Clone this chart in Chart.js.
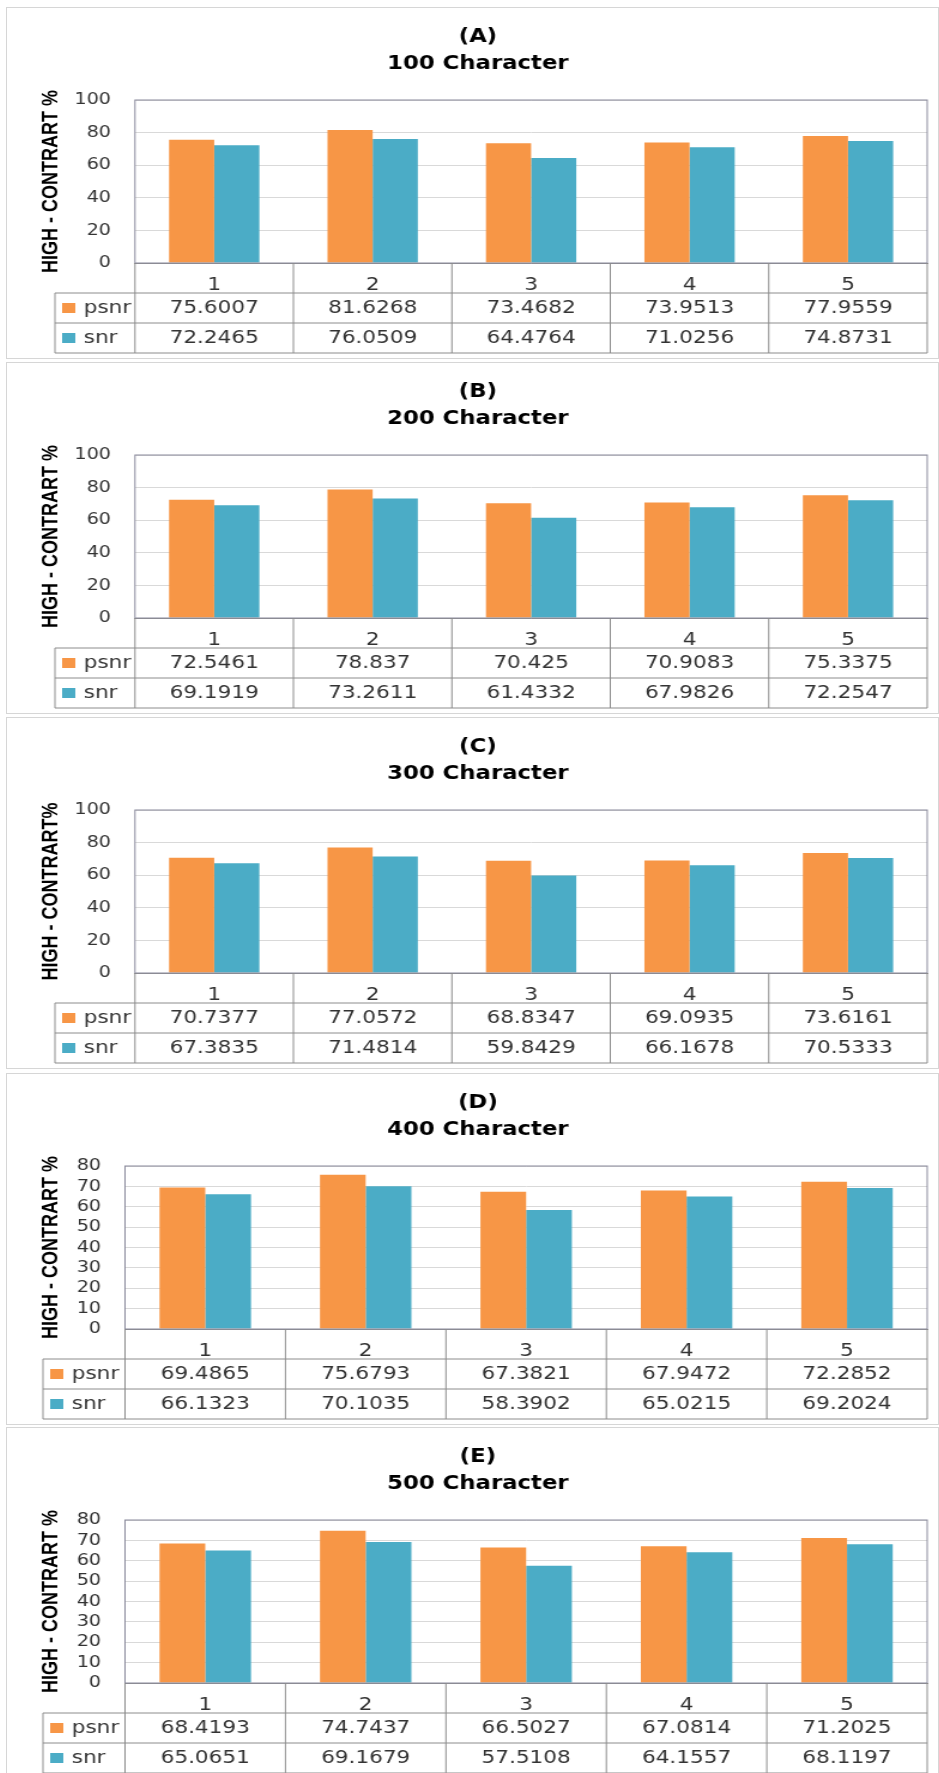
<!DOCTYPE html>
<html>
<head>
<meta charset="utf-8">
<title>HIGH - CONTRART % by character count</title>
<script src="https://cdn.jsdelivr.net/npm/chart.js@4.4.1/dist/chart.umd.min.js"></script>
<style>
  html, body { margin: 0; padding: 0; background: #fff; }
  body { width: 939px; height: 1773px; position: relative; overflow: hidden; }
  .panel { position: absolute; left: 6px; width: 931px; height: 350px; border: 1px solid #d6d6d6; background: #fff; }
  .panel canvas { display: block; }
</style>
</head>
<body>
<div class="panel" style="top:7px"><canvas id="chartA" width="777" height="350" style="width:931px;height:350px"></canvas></div>
<div class="panel" style="top:362px"><canvas id="chartB" width="777" height="350" style="width:931px;height:350px"></canvas></div>
<div class="panel" style="top:717px"><canvas id="chartC" width="777" height="350" style="width:931px;height:350px"></canvas></div>
<div class="panel" style="top:1073px"><canvas id="chartD" width="777" height="350" style="width:931px;height:350px"></canvas></div>
<div class="panel" style="top:1427px"><canvas id="chartE" width="777" height="350" style="width:931px;height:350px"></canvas></div>

<script>
// categories and series
const categories = ['1', '2', '3', '4', '5'];
const seriesNames = ['psnr', 'snr'];
const seriesColors = ['#F79646', '#4BACC6'];

// y tick labels
const yTicks100 = [0, 20, 40, 60, 80, 100];
const yTicks80 = [0, 10, 20, 30, 40, 50, 60, 70, 80];

// 100 Character
const psnr100 = [75.6007, 81.6268, 73.4682, 73.9513, 77.9559];
const snr100 = [72.2465, 76.0509, 64.4764, 71.0256, 74.8731];
// 200 Character
const psnr200 = [72.5461, 78.837, 70.425, 70.9083, 75.3375];
const snr200 = [69.1919, 73.2611, 61.4332, 67.9826, 72.2547];
// 300 Character
const psnr300 = [70.7377, 77.0572, 68.8347, 69.0935, 73.6161];
const snr300 = [67.3835, 71.4814, 59.8429, 66.1678, 70.5333];
// 400 Character
const psnr400 = [69.4865, 75.6793, 67.3821, 67.9472, 72.2852];
const snr400 = [66.1323, 70.1035, 58.3902, 65.0215, 69.2024];
// 500 Character
const psnr500 = [68.4193, 74.7437, 66.5027, 67.0814, 71.2025];
const snr500 = [65.0651, 69.1679, 57.5108, 64.1557, 68.1197];

const ROW_H = 30;
const PAD_LEFT = 18;
const TEXT = '#333';

// data table under the plot: legend keys, values and cell borders
const dataTable = {
    id: 'dataTable',
    afterDraw(chart, args, opts) {
        const { ctx, chartArea: a, scales: { x } } = chart;
        const top = a.bottom;
        const left = opts.legendLeft;
        const n = chart.data.labels.length;

        const line = (x1, y1, x2, y2) => {
            ctx.beginPath();
            ctx.moveTo(x1, y1);
            ctx.lineTo(x2, y2);
            ctx.stroke();
        };

        ctx.save();
        ctx.lineWidth = 1;

        // plot frame
        ctx.strokeStyle = '#8a8a9c';
        ctx.strokeRect(a.left, a.top, a.right - a.left, a.bottom - a.top);

        // table grid
        ctx.strokeStyle = '#8c8c8c';
        for (let i = 1; i <= 3; i++) {
            line(left, top + i * ROW_H, a.right, top + i * ROW_H);
        }
        line(a.left, top, a.left, top + 3 * ROW_H);
        line(a.right, top, a.right, top + 3 * ROW_H);
        line(left, top + ROW_H, left, top + 3 * ROW_H);
        for (let k = 1; k < n; k++) {
            const xb = (x.getPixelForValue(k - 1) + x.getPixelForValue(k)) / 2;
            line(xb, top, xb, top + 3 * ROW_H);
        }

        // rows
        ctx.font = '18px "DejaVu Sans"';
        ctx.textBaseline = 'middle';
        chart.data.datasets.forEach((ds, i) => {
            const y = top + (i + 1.5) * ROW_H;
            ctx.fillStyle = ds.backgroundColor;
            ctx.fillRect(left + 6, y - 5, 11, 10);
            ctx.fillStyle = TEXT;
            ctx.textAlign = 'left';
            ctx.fillText(ds.label, left + 24, y);
            ctx.textAlign = 'center';
            ds.data.forEach((v, j) => {
                ctx.fillText(String(v), x.getPixelForValue(j), y);
            });
        });
        ctx.restore();
    }
};

function drawPanel(id, letter, caption, axisTitle, psnr, snr, yTicks, plotLeft, legendLeft) {
    const ctx = document.getElementById(id).getContext('2d');
    new Chart(ctx, {
        type: 'bar',
        data: {
            labels: categories,
            datasets: [
                { label: seriesNames[0], data: psnr, backgroundColor: seriesColors[0], categoryPercentage: 0.57, barPercentage: 1 },
                { label: seriesNames[1], data: snr, backgroundColor: seriesColors[1], categoryPercentage: 0.57, barPercentage: 1 }
            ]
        },
        options: {
            responsive: false,
            animation: false,
            devicePixelRatio: 1,
            layout: { padding: { left: PAD_LEFT, right: 9, top: 0, bottom: 65 } },
            plugins: {
                legend: { display: false },
                tooltip: { enabled: false },
                title: {
                    display: true,
                    text: [letter, caption],
                    color: '#000',
                    font: { family: 'DejaVu Sans', size: 19, weight: 'bold', lineHeight: 27 / 19 },
                    padding: { top: 16, bottom: 22 }
                },
                dataTable: { legendLeft: legendLeft }
            },
            scales: {
                x: {
                    grid: { display: false },
                    border: { display: true, color: '#8c8c8c' },
                    ticks: { color: TEXT, font: { family: 'DejaVu Sans', size: 18 }, padding: 4, maxRotation: 0 },
                    afterFit: s => { s.height = ROW_H; }
                },
                y: {
                    min: 0,
                    max: yTicks[yTicks.length - 1],
                    afterBuildTicks: s => { s.ticks = yTicks.map(v => ({ value: v })); },
                    afterFit: s => { s.width = plotLeft - PAD_LEFT; },
                    grid: { color: '#d9d9d9', drawTicks: false },
                    border: { display: false },
                    ticks: { color: TEXT, font: { family: 'DejaVu Sans', size: 16 }, padding: 20, autoSkip: false },
                    title: {
                        display: true,
                        text: axisTitle,
                        color: '#000',
                        font: { family: 'Liberation Sans', size: 18, weight: 'bold' },
                        padding: { top: 8.5, bottom: 0 }
                    }
                }
            }
        },
        plugins: [dataTable]
    });
}

drawPanel('chartA', '(A)', '100 Character', 'HIGH - CONTRART %', psnr100, snr100, yTicks100, 106.8, 40);
drawPanel('chartB', '(B)', '200 Character', 'HIGH - CONTRART %', psnr200, snr200, yTicks100, 106.8, 40);
drawPanel('chartC', '(C)', '300 Character', 'HIGH - CONTRART%', psnr300, snr300, yTicks100, 106.8, 40);
drawPanel('chartD', '(D)', '400 Character', 'HIGH - CONTRART %', psnr400, snr400, yTicks80, 98.5, 30);
drawPanel('chartE', '(E)', '500 Character', 'HIGH - CONTRART %', psnr500, snr500, yTicks80, 98.5, 30);
</script>
</body>
</html>
